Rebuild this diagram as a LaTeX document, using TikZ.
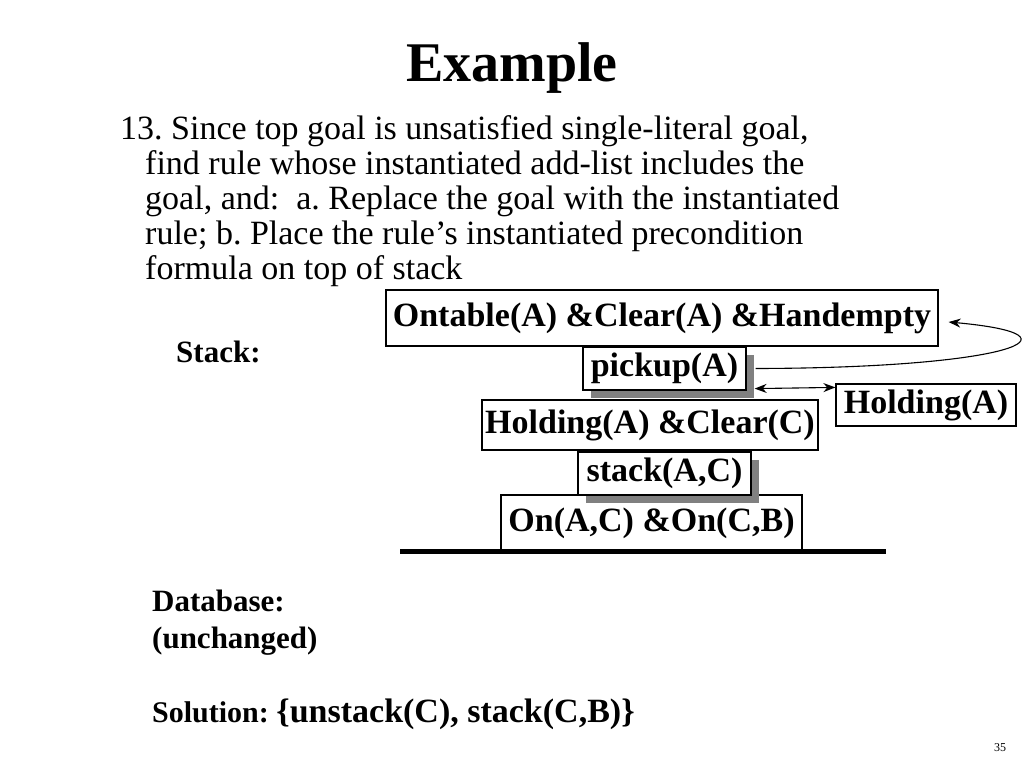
\documentclass[tikz,border=0pt]{standalone}
\usepackage{fontspec}
\setmainfont{Liberation Serif}
\usetikzlibrary{shadows,arrows.meta}
\frenchspacing

\begin{document}
\begin{tikzpicture}[x=1pt, y=-1pt,
  goal/.style={draw, line width=1.2pt, fill=white, inner sep=0pt,
    font=\fontsize{34}{36}\selectfont\bfseries},
  action/.style={goal, drop shadow={shadow xshift=8pt, shadow yshift=-8pt, fill=gray, opacity=1}},
  line/.style={anchor=base west, inner sep=0pt, font=\fontsize{34}{35}\selectfont},
  label/.style={anchor=base west, inner sep=0pt, font=\fontsize{31}{32}\selectfont\bfseries},
  tip/.style={Stealth[length=12pt,width=9pt]},
  link/.style={line width=1.1pt, -{Stealth[length=12pt,width=9pt]}}]
  \useasboundingbox (0,0) rectangle (1024,768);

  \node (title) at (512,68) {\fontsize{56}{58}\selectfont\bfseries Example};
  \node[line] (l1) at (120,139) {13. Since top goal is unsatisfied single-literal goal,};
  \node[line] (l2) at (145,174) {find rule whose instantiated add-list includes the};
  \node[line] (l3) at (145,209) {goal, and:\ \ a. Replace the goal with the instantiated};
  \node[line] (l4) at (145,244) {rule; b. Place the rule’s instantiated precondition};
  \node[line] (l5) at (145,279) {formula on top of stack};

  \node[label] (stacklbl) at (176,362) {Stack:};

  % Goal stack
  \node[goal, minimum width=552, minimum height=56] (ontable) at (662,318) {Ontable(A) \&Clear(A) \&Handempty};
  \node[action, minimum width=163, minimum height=43] (pickup) at (664.5,368.5) {pickup(A)};
  \node[goal, minimum width=336, minimum height=50] (holdclear) at (650,425) {Holding(A) \&Clear(C)};
  \node[goal, minimum width=301, minimum height=56] (on) at (651.5,523) {On(A,C) \&On(C,B)};
  \node[action, minimum width=173, minimum height=43] (stack) at (664.5,473.5) {stack(A,C)};
  \draw[line width=5pt] (400,551) -- (886,551);

  \node[goal, minimum width=180, minimum height=42] (holding) at (926,405) {Holding(A)};

  % Links
  \draw[link] ([xshift=9pt]pickup.east) .. controls (1010,368) and (1092,335) .. ([xshift=10pt,yshift=-4pt]ontable.east);
  \draw[line width=1.1pt, {Stealth[length=12pt,width=9pt]}-{Stealth[length=12pt,width=9pt]}]
    ([xshift=8pt,yshift=2pt]pickup.south east) -- ([yshift=-4pt]holding.north west);

  \node[label] (db) at (152,611) {Database:};
  \node[label] (unch) at (152,648) {(unchanged)};
  \node[label] (sol) at (152,722) {\fontsize{30}{32}\selectfont Solution: \fontsize{34}{36}\selectfont\{unstack(C), stack(C,B)\}};

  \node (page) at (1000,748) {\fontsize{12}{14}\selectfont 35};
\end{tikzpicture}
\end{document}
